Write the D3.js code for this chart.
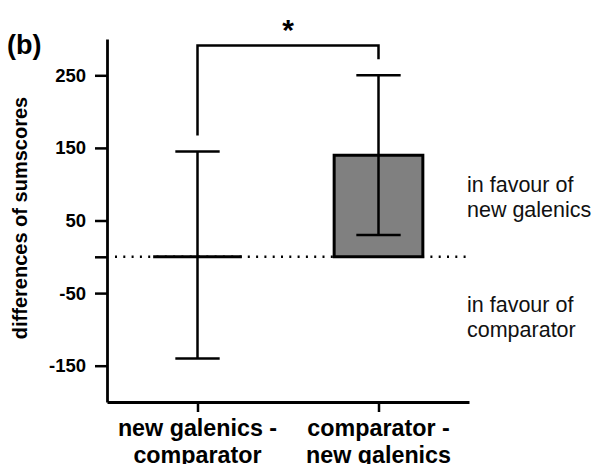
<!DOCTYPE html>
<html>
<head>
<meta charset="utf-8">
<script src="https://cdn.jsdelivr.net/npm/d3@7"></script>
<style>
  html, body { margin: 0; padding: 0; background: #fff; }
  svg { display: block; font-family: Arial, "Liberation Sans", Helvetica, sans-serif; }
</style>
</head>
<body>
<svg id="chart" width="596" height="464"></svg>
<script>
// Differences of sum scores between formulations (mean with error range)
const categories = ["new galenics - comparator", "comparator - new galenics"];
const categoryLines = [["new galenics -", "comparator"], ["comparator -", "new galenics"]];
const means = [0, 140];
const lower = [-140, 30];
const upper = [145, 250];
const tickValues = [250, 150, 50, 0, -50, -150];
const tickLabels = ["250", "150", "50", "", "-50", "-150"];
const yDomain = [-200, 300];
// significance bracket: left leg end, right leg end, bracket height
const bracketLevels = [167, 272, 291];
const bracketMark = "*";
const sideNotes = [
  { value: 110, lines: ["in favour of", "new galenics"] },
  { value: -55, lines: ["in favour of", "comparator"] }
];

const svg = d3.select("#chart");
const plotLeft = 107, plotRight = 469, plotTop = 39, plotBottom = 402;
const ink = "#000";

const x = d3.scalePoint().domain(categories).range([plotLeft, plotRight]).padding(0.5);
const y = d3.scaleLinear().domain(yDomain).range([plotBottom, plotTop]);
const barW = x.step() * 0.49;
const capW = barW * 0.5;

// zero reference line
svg.append("line")
  .attr("x1", plotLeft + 8).attr("x2", 466)
  .attr("y1", y(0)).attr("y2", y(0))
  .attr("stroke", ink).attr("stroke-width", 2.5)
  .attr("stroke-dasharray", "2,6.3");

// bars (a path so that a zero-height bar still shows its outline)
svg.selectAll("path.bar").data(categories).join("path")
  .attr("class", "bar")
  .attr("d", (c, i) => {
    const x0 = x(c) - barW / 2, x1 = x(c) + barW / 2;
    return `M${x0},${y(0)}H${x1}V${y(means[i])}H${x0}Z`;
  })
  .attr("fill", "#808080")
  .attr("stroke", ink).attr("stroke-width", 3);

// error bars
const eb = svg.selectAll("g.err").data(categories).join("g").attr("class", "err");
eb.append("line")
  .attr("x1", c => x(c)).attr("x2", c => x(c))
  .attr("y1", (c, i) => y(lower[i])).attr("y2", (c, i) => y(upper[i]))
  .attr("stroke", ink).attr("stroke-width", 2.5);
eb.append("line")
  .attr("x1", c => x(c) - capW / 2).attr("x2", c => x(c) + capW / 2)
  .attr("y1", (c, i) => y(upper[i])).attr("y2", (c, i) => y(upper[i]))
  .attr("stroke", ink).attr("stroke-width", 2.5);
eb.append("line")
  .attr("x1", c => x(c) - capW / 2).attr("x2", c => x(c) + capW / 2)
  .attr("y1", (c, i) => y(lower[i])).attr("y2", (c, i) => y(lower[i]))
  .attr("stroke", ink).attr("stroke-width", 2.5);

// y axis
const yAxis = d3.axisLeft(y)
  .tickValues(tickValues)
  .tickFormat((d, i) => tickLabels[i])
  .tickSize(12).tickSizeOuter(0).tickPadding(9);
const gy = svg.append("g").attr("transform", `translate(${plotLeft},0)`).call(yAxis);
gy.select(".domain").attr("stroke", ink).attr("stroke-width", 2.8);
gy.selectAll(".tick line").attr("stroke", ink).attr("stroke-width", 2.5);
gy.selectAll(".tick text")
  .attr("fill", ink).attr("font-size", 18.5).attr("font-weight", "bold")
  .attr("font-family", "Arial, 'Liberation Sans', sans-serif");

// x axis
const xAxis = d3.axisBottom(x).tickSize(10).tickSizeOuter(0).tickFormat("");
const gx = svg.append("g").attr("transform", `translate(0,${plotBottom})`).call(xAxis);
gx.select(".domain").attr("stroke", ink).attr("stroke-width", 2.8);
gx.selectAll(".tick line").attr("stroke", ink).attr("stroke-width", 2.5);

// category labels
svg.selectAll("text.cat").data(categories).join("text")
  .attr("class", "cat")
  .attr("x", c => x(c)).attr("y", 436)
  .attr("text-anchor", "middle")
  .attr("font-size", 23.3).attr("font-weight", "bold").attr("fill", ink)
  .selectAll("tspan").data((c, i) => categoryLines[i]).join("tspan")
  .attr("x", function () { return d3.select(this.parentNode).attr("x"); })
  .attr("dy", (d, j) => j === 0 ? 0 : 27)
  .text(d => d);

// y axis title
svg.append("text")
  .attr("transform", `translate(27,218) rotate(-90)`)
  .attr("text-anchor", "middle")
  .attr("font-size", 20).attr("font-weight", "bold").attr("fill", ink)
  .text("differences of sumscores");

// panel letter
svg.append("text")
  .attr("x", 7).attr("y", 54)
  .attr("font-size", 27).attr("font-weight", "bold").attr("fill", ink)
  .text("(b)");

// significance bracket
const bx0 = x(categories[0]), bx1 = x(categories[1]);
svg.append("path")
  .attr("d", `M${bx0},${y(bracketLevels[0])}V${y(bracketLevels[2])}H${bx1}V${y(bracketLevels[1])}`)
  .attr("fill", "none").attr("stroke", ink).attr("stroke-width", 2.5);
svg.append("text")
  .attr("x", (bx0 + bx1) / 2).attr("y", 40)
  .attr("text-anchor", "middle")
  .attr("font-size", 30).attr("font-weight", "bold").attr("fill", ink)
  .text(bracketMark);

// side notes
svg.selectAll("text.note").data(sideNotes).join("text")
  .attr("class", "note")
  .attr("font-size", 21.5).attr("fill", "#111")
  .each(function (d, i) {
    const t = d3.select(this).attr("x", 467).attr("y", i === 0 ? 192 : 312);
    d.lines.forEach((s, j) => {
      t.append("tspan").attr("x", 467).attr("dy", j === 0 ? 0 : 25).text(s);
    });
  });
</script>
</body>
</html>
